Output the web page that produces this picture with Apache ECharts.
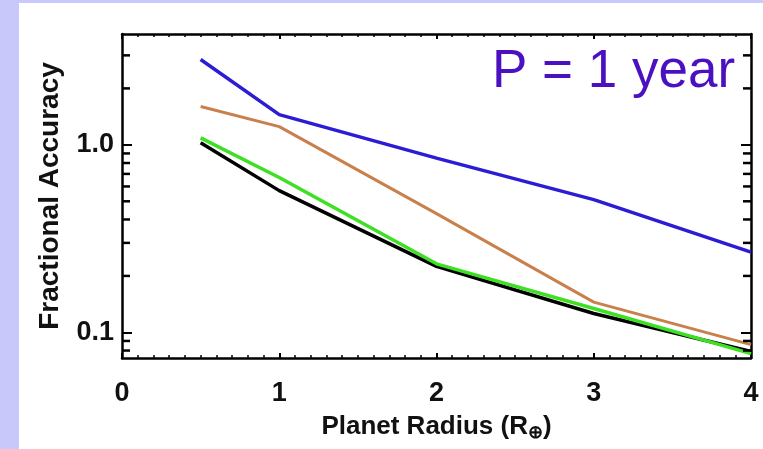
<!DOCTYPE html>
<html><head><meta charset="utf-8">
<script src="https://cdn.jsdelivr.net/npm/echarts@6/dist/echarts.min.js"></script>
<style>html,body{margin:0;padding:0;background:#fff}#c{width:763px;height:449px}</style>
</head><body><div id="c"></div>
<script>
const radius = [0.5, 1, 2, 3, 4];
const blueVals   = [2.85, 1.45, 0.85, 0.51, 0.268];
const orangeVals = [1.6, 1.25, 0.43, 0.145, 0.086];
const greenVals  = [1.09, 0.67, 0.232, 0.134, 0.077];
const blackVals  = [1.025, 0.57, 0.225, 0.126, 0.079];
const xTicks = [0, 1, 2, 3, 4];
const yMajorTicks = [0.1, 1];
const yMajorLabels = ['0.1', '1.0'];
const yMinorTicks = [0.08, 0.09, 0.2, 0.3, 0.4, 0.5, 0.6, 0.7, 0.8, 0.9, 2, 3];

const chart = echarts.init(document.getElementById('c'));
const font = '"Liberation Sans", Arial, sans-serif';
const Y_MIN = 0.073, Y_MAX = 3.9;
const X_MIN = xTicks[0], X_MAX = xTicks[xTicks.length - 1];
const pair = (ys) => radius.map((x, i) => [x, ys[i]]);
const lineSeries = (name, ys, color, w) => ({
  name, type: 'line', data: pair(ys), showSymbol: false, symbol: 'none',
  lineStyle: { color, width: w }, z: 3, animation: false
});
const yBase = (pos, labels) => ({
  type: 'log', logBase: 10, min: Y_MIN, max: Y_MAX, position: pos, offset: 0,
  axisLine: { show: true, onZero: false, lineStyle: { color: '#000', width: 2.5 } },
  axisTick: { show: true, inside: true, length: 10, customValues: yMajorTicks, lineStyle: { color: '#000', width: 2 } },
  axisLabel: labels ? {
    show: true, customValues: yMajorTicks, margin: 8,
    fontFamily: font, fontWeight: 'bold', fontSize: 27, color: '#111',
    formatter: (v) => { const i = yMajorTicks.findIndex(t => Math.abs(t - v) < 1e-9); return i >= 0 ? yMajorLabels[i] : ''; }
  } : { show: false },
  splitLine: { show: false }, minorTick: { show: false }
});
const xBase = (pos, labels) => ({
  type: 'value', min: X_MIN, max: X_MAX, interval: 1, position: pos, offset: 0,
  axisLine: { show: true, onZero: false, lineStyle: { color: '#000', width: 2.5 } },
  axisTick: { show: true, inside: true, length: 5, lineStyle: { color: '#000', width: 2 } },
  minorTick: { show: true, splitNumber: 10, length: 3, lineStyle: { color: '#000', width: 1.5 } },
  axisLabel: labels ? { show: true, margin: 22, fontFamily: font, fontWeight: 'bold', fontSize: 27, color: '#111' } : { show: false },
  splitLine: { show: false }
});

const xMain = xBase('bottom', true);
xMain.name = 'Planet Radius (R{sub|⊕})';
xMain.nameLocation = 'middle';
xMain.nameGap = 54;
xMain.nameTextStyle = { fontFamily: font, fontWeight: 'bold', fontSize: 26, color: '#111',
  rich: { sub: { fontSize: 18, fontWeight: 'bold', verticalAlign: 'bottom', padding: [12, 0, 0, 0], color: '#111' } } };

const yMain = yBase('left', true);
yMain.name = 'Fractional Accuracy';
yMain.nameLocation = 'middle';
yMain.nameRotate = 90;
yMain.nameGap = 58;
yMain.nameTextStyle = { fontFamily: font, fontWeight: 'bold', fontSize: 28, color: '#111' };

// minor log ticks on the left and right frame edges, as small rect symbols placed by the axes
const minorTickSeries = (xv, off) => ({
  type: 'scatter', silent: true, animation: false, z: 10, clip: false,
  data: yMinorTicks.map(v => [xv, v]),
  symbol: 'rect', symbolSize: [8, 2.5], symbolOffset: [off, 0],
  itemStyle: { color: '#000', opacity: 1 },
  emphasis: { disabled: true }
});

chart.setOption({
  backgroundColor: '#fff',
  animation: false,
  grid: { left: 122, right: 12, top: 34, bottom: 91, containLabel: false, outerBoundsMode: 'none' },
  xAxis: [xMain, xBase('top', false)],
  yAxis: [yMain, yBase('right', false)],
  graphic: [
    { type: 'rect', left: 0, top: 0, shape: { width: 19, height: 449 }, style: { fill: '#c8c8fa' }, silent: true },
    { type: 'rect', left: 0, top: 0, shape: { width: 763, height: 3 }, style: { fill: '#c8c8fa' }, silent: true },
    { type: 'text', x: 492, y: 46, style: { text: 'P = 1 year', font: '53px "Liberation Sans", Arial, sans-serif', fill: '#4b10c0', verticalAlign: 'top', align: 'left' }, z: 10 }
  ],
  series: [
    lineSeries('black', blackVals, '#000000', 3.5),
    lineSeries('green', greenVals, '#3ee024', 3.5),
    lineSeries('orange', orangeVals, '#c8804c', 3),
    lineSeries('blue', blueVals, '#2c1cd4', 3.5),
    minorTickSeries(X_MIN, 4),
    minorTickSeries(X_MAX, -4)
  ]
});
</script></body></html>
